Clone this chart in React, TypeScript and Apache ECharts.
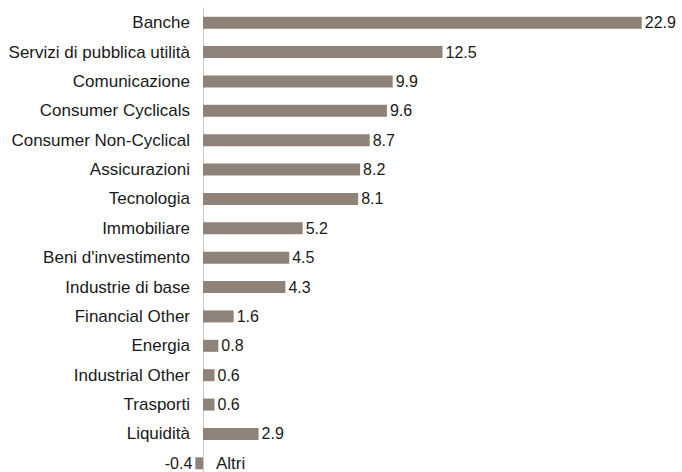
import React, { useEffect, useRef } from "react";
import * as echarts from "echarts";

const categories = [
  "Banche",
  "Servizi di pubblica utilità",
  "Comunicazione",
  "Consumer Cyclicals",
  "Consumer Non-Cyclical",
  "Assicurazioni",
  "Tecnologia",
  "Immobiliare",
  "Beni d'investimento",
  "Industrie di base",
  "Financial Other",
  "Energia",
  "Industrial Other",
  "Trasporti",
  "Liquidità",
  "Altri",
];
const values = [22.9, 12.5, 9.9, 9.6, 8.7, 8.2, 8.1, 5.2, 4.5, 4.3, 1.6, 0.8, 0.6, 0.6, 2.9, -0.4];

const FONT = "'Liberation Sans', Arial, sans-serif";

export default function App() {
  const ref = useRef<HTMLDivElement>(null);
  useEffect(() => {
    const chart = echarts.init(ref.current!, null, { renderer: "svg" });
    chart.setOption({
      animation: false,
      grid: { left: 203, top: 8, width: 479, height: 470, outerBoundsMode: "none", containLabel: false },
      xAxis: {
        type: "value",
        min: 0,
        max: 25,
        show: false,
      },
      yAxis: {
        type: "category",
        inverse: true,
        data: categories.map((c) =>
          c === "Altri"
            ? { value: c, textStyle: { align: "left", padding: [0, 0, 0, 26] } }
            : c
        ),
        axisLine: { show: true, onZero: true, lineStyle: { color: "#c8c8c8", width: 1 } },
        axisTick: { show: false },
        axisLabel: { margin: 13, fontFamily: FONT, fontSize: 17, color: "#1a1a1a" },
      },
      series: [
        {
          type: "bar",
          barWidth: 12,
          clip: false,
          itemStyle: { color: "#8f8279" },
          data: values.map((v) =>
            v < 0 ? { value: v, label: { position: "left" } } : v
          ),
          label: {
            show: true,
            position: "right",
            distance: 3,
            fontFamily: FONT,
            fontSize: 16,
            color: "#1a1a1a",
            formatter: (p: any) => p.value.toFixed(1),
          },
        },
      ],
    });
    return () => chart.dispose();
  }, []);
  return <div ref={ref} style={{ width: 682, height: 472, position: "absolute", left: 0, top: 0 }} />;
}
